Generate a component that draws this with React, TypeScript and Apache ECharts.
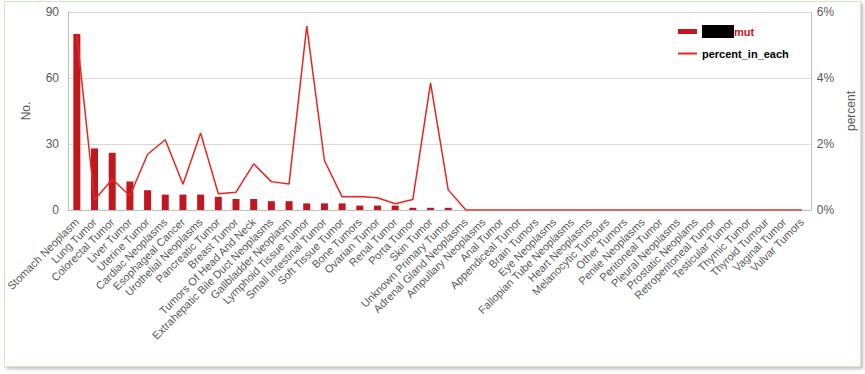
import React, { useEffect, useRef } from "react";
import * as echarts from "echarts";

const categories = [
  "Stomach Neoplasm", "Lung Tumor", "Colorectal Tumor", "Liver Tumor", "Uterine Tumor",
  "Cardiac Neoplasms", "Esophageal Cancer", "Urothelial Neoplasms", "Pancreatic Tumor", "Breast Tumor",
  "Tumors Of Head And Neck", "Extrahepatic Bile Duct Neoplasms", "Gallbladder Neoplasm", "Lymphoid Tissue Tumor", "Small Intestinal Tumor",
  "Soft Tissue Tumor", "Bone Tumors", "Ovarian Tumor", "Renal Tumor", "Porta Tumor",
  "Skin Tumor", "Unknown Primary Tumor", "Adrenal Gland Neoplasms", "Ampullary Neoplasms", "Anal Tumor",
  "Appendiceal Tumor", "Brain Tumors", "Eye Neoplasms", "Fallopian Tube Neoplasms", "Heart Neoplasms",
  "Melanocytic Tumours", "Other Tumors", "Penile Neoplasms", "Peritoneal Tumor", "Pleural Neoplasms",
  "Prostatic Neoplams", "Retroperitoneal Tumor", "Testicular Tumor", "Thymic Tumor", "Thyroid Tumour",
  "Vaginal Tumor", "Vulvar Tumors",
];

const mutCounts = [
  80, 28, 26, 13, 9, 7, 7, 7, 6, 5,
  5, 4, 4, 3, 3, 3, 2, 2, 2, 1,
  1, 1, 0, 0, 0, 0, 0, 0, 0, 0,
  0, 0, 0, 0, 0, 0, 0, 0, 0, 0,
  0, 0,
];

const percentInEach = [
  5.3, 0.3, 0.93, 0.43, 1.69, 2.13, 0.78, 2.33, 0.49, 0.54,
  1.4, 0.86, 0.79, 5.57, 1.5, 0.4, 0.41, 0.37, 0.19, 0.32,
  3.85, 0.61, 0, 0, 0, 0, 0, 0, 0, 0,
  0, 0, 0, 0, 0, 0, 0, 0, 0, 0,
  0, 0,
];

const leftTicks = { min: 0, max: 90, interval: 30 };
const rightTicks = { min: 0, max: 6, interval: 2 };

const BAR_NAME = "xxxx_mut";
const LINE_NAME = "percent_in_each";

export default function App() {
  const ref = useRef<HTMLDivElement>(null);
  useEffect(() => {
    document.body.style.margin = "0";
    const chart = echarts.init(ref.current!, null, { renderer: "svg" });
    const font = "'Liberation Sans', Arial, sans-serif";
    chart.setOption({
      animation: false,
      textStyle: { fontFamily: font },
      grid: { left: 68, right: 52, top: 12, bottom: 164 },
      legend: {
        orient: "vertical",
        left: 672,
        top: 20,
        itemGap: 10,
        data: [
          { name: BAR_NAME, icon: "rect", itemStyle: { color: "#c0181e" } },
          { name: LINE_NAME, itemStyle: { opacity: 0 } },
        ],
        itemWidth: 19,
        itemHeight: 5,
        formatter: (n: string) =>
          n === BAR_NAME ? "{k| }{m|mut}" : "{p|" + n + "}",
        textStyle: {
          fontFamily: font,
          rich: {
            k: { backgroundColor: "#000", width: 32, height: 13 },
            m: { color: "#c8141b", fontWeight: "bold", fontSize: 11, fontFamily: font },
            p: { color: "#000", fontWeight: "bold", fontSize: 11, fontFamily: font },
          },
        },
      },
      xAxis: {
        type: "category",
        data: categories,
        boundaryGap: true,
        axisLine: { lineStyle: { color: "#bfbfbf" } },
        axisTick: { show: false },
        axisLabel: {
          interval: 0,
          rotate: 45,
          color: "#595959",
          fontSize: 11,
          fontFamily: font,
          margin: 10,
        },
      },
      yAxis: [
        {
          type: "value",
          ...leftTicks,
          name: "No.",
          nameLocation: "middle",
          nameRotate: 90,
          nameGap: 36,
          nameTextStyle: { color: "#595959", fontSize: 12, fontFamily: font },
          axisLine: { show: true, lineStyle: { color: "#bfbfbf" } },
          axisTick: { show: false },
          axisLabel: { color: "#595959", fontSize: 12, fontFamily: font, margin: 9 },
          splitLine: { lineStyle: { color: "#d9d9d9" } },
        },
        {
          type: "value",
          ...rightTicks,
          name: "percent",
          nameLocation: "middle",
          nameRotate: 90,
          nameGap: 34,
          nameTextStyle: { color: "#595959", fontSize: 12, fontFamily: font },
          axisLine: { show: true, lineStyle: { color: "#bfbfbf" } },
          axisTick: { show: false },
          axisLabel: { color: "#595959", fontSize: 12, fontFamily: font, margin: 6, formatter: "{value}%" },
          splitLine: { show: false },
        },
      ],
      series: [
        {
          name: BAR_NAME,
          type: "bar",
          data: mutCounts,
          barWidth: 7,
          itemStyle: { color: "#c0181e" },
          yAxisIndex: 0,
        },
        {
          name: LINE_NAME,
          type: "line",
          data: percentInEach,
          yAxisIndex: 1,
          symbol: "none",
          lineStyle: { color: "#e8261f", width: 1.5 },
          itemStyle: { color: "#e8261f" },
        },
      ],
    });
    return () => chart.dispose();
  }, []);
  return (
    <div style={{ position: "relative", width: 865, height: 374, background: "#fff" }}>
      <div
        style={{
          position: "absolute",
          left: 4,
          top: 1,
          width: 855,
          height: 364,
          border: "1px solid #d3e6c8",
          boxShadow: "2px 2px 3px rgba(0,0,0,0.25)",
          background: "#fff",
        }}
      />
      <div ref={ref} style={{ position: "absolute", left: 0, top: 0, width: 865, height: 374 }} />
    </div>
  );
}
